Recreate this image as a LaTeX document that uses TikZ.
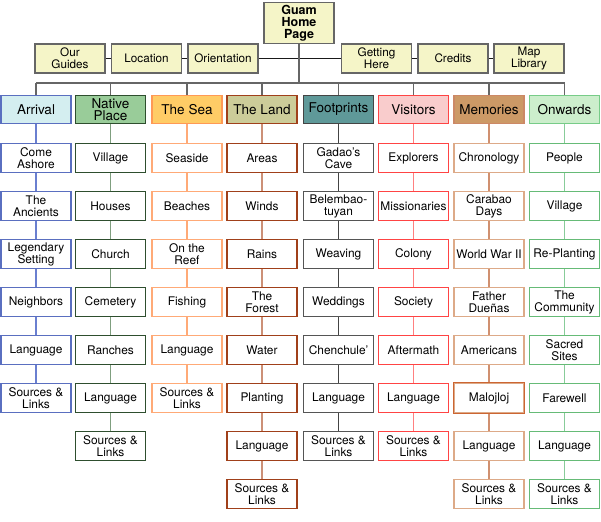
\documentclass[tikz,border=0pt]{standalone}
\usepackage{fontspec}
\setmainfont{TeX Gyre Heros}

\definecolor{pagefill}{HTML}{F5F5C8}
\definecolor{pageline}{HTML}{666666}
\definecolor{arrfill}{HTML}{D4EEF0}
\definecolor{arrline}{HTML}{5A6FC0}
\definecolor{arrlink}{HTML}{6A7FD0}
\definecolor{natfill}{HTML}{99CC99}
\definecolor{natline}{HTML}{2E4E2E}
\definecolor{natlink}{HTML}{7F9F7F}
\definecolor{seafill}{HTML}{FFCC66}
\definecolor{sealine}{HTML}{FF9955}
\definecolor{seasub}{HTML}{FFAA77}
\definecolor{landfill}{HTML}{CCCC99}
\definecolor{landline}{HTML}{A0401A}
\definecolor{landlink}{HTML}{CC9077}
\definecolor{footfill}{HTML}{5F9999}
\definecolor{footline}{HTML}{444444}
\definecolor{footsub}{HTML}{555555}
\definecolor{visfill}{HTML}{F9CCCC}
\definecolor{visline}{HTML}{FF4444}
\definecolor{vislink}{HTML}{FF8080}
\definecolor{memfill}{HTML}{CC9966}
\definecolor{memline}{HTML}{CC8866}
\definecolor{memsub}{HTML}{DDAA88}
\definecolor{memdark}{HTML}{CC6633}
\definecolor{memlink}{HTML}{D09070}
\definecolor{onwfill}{HTML}{CCEECC}
\definecolor{onwline}{HTML}{77CC88}
\definecolor{onwsub}{HTML}{66BB77}
\definecolor{onwlink}{HTML}{88CC99}

% one column of pages under a section head
\newcommand{\pagecolumn}[5]{%
  \foreach \t [count=\k, remember=\k as \j (initially 0)] in {#5} {
    \node[sub, draw=#3] (#1-\k) at (#2, {110+48*\k}) {\t};
    \draw[#4, line width=1.2pt] (#1-\j) -- (#1-\k);
  }}

\begin{document}
\begin{tikzpicture}[x=1pt, y=-1pt, line width=1.2pt,
  page/.style={draw=pageline, fill=pagefill, minimum width=70pt, minimum height=29pt,
    inner sep=1pt, align=center, font=\fontsize{11.7}{12}\selectfont},
  head/.style={minimum width=70pt, minimum height=28pt, inner sep=1pt, align=center,
    font=\fontsize{13.5}{12.5}\selectfont},
  sub/.style={fill=white, minimum width=70pt, minimum height=29.5pt, inner sep=1pt,
    align=center, font=\fontsize{11.9}{12}\selectfont},
  tie/.style={line width=1.1pt, black!90},
  trunk/.style={line width=1.2pt, pageline}]
  \useasboundingbox (0,0) rectangle (601,521);

  % home page and the pages beside it
  \node[page, minimum height=41pt, font=\fontsize{12.5}{12}\selectfont\bfseries] (guam) at (299,23) {Guam\\Home\\Page};
  \node[page] (guides) at (70,58.5) {Our\\Guides};
  \node[page] (location) at (146.5,58.5) {Location};
  \node[page] (orient) at (223,58.5) {Orientation};
  \node[page] (getting) at (376.5,58.5) {Getting\\Here};
  \node[page] (credits) at (453,58.5) {Credits};
  \node[page] (maplib) at (529,58.5) {Map\\Library};
  \draw[tie] (guides) -- (location);
  \draw[tie] (location) -- (orient);
  \draw[tie] (orient) -- (getting);
  \draw[tie] (getting) -- (credits);
  \draw[tie] (credits) -- (maplib);

  % section heads
  \node[head, fill=arrfill, draw=arrline, alias=arrival-0] (arrival) at (36,109.5) {Arrival};
  \node[head, fill=natfill, draw=natline, alias=native-0] (native) at (110.5,109.5) {Native\\Place};
  \node[head, fill=seafill, draw=sealine, alias=sea-0] (sea) at (187,109.5) {The Sea};
  \node[head, fill=landfill, draw=landline, alias=land-0] (land) at (262,109.5) {The Land};
  \node[head, fill=footfill, draw=footline, alias=foot-0] (foot) at (338.5,109.5) {Footprints};
  \node[head, fill=visfill, draw=visline, alias=visitors-0] (visitors) at (413.5,109.5) {Visitors};
  \node[head, fill=memfill, draw=memline, alias=memories-0] (memories) at (489,109.5) {Memories};
  \node[head, fill=onwfill, draw=onwline, alias=onwards-0] (onwards) at (564.5,109.5) {Onwards};

  \coordinate (bus) at (299,83);
  \draw[trunk] (guam) -- (bus);
  \draw[trunk] (arrival |- bus) -- (onwards |- bus);
  \foreach \c in {arrival,native,sea,land,foot,visitors,memories,onwards}
    \draw[trunk] (\c |- bus) -- (\c);

  % pages of each section
  \pagecolumn{arrival}{36}{arrline}{arrlink}{Come\\Ashore, The\\Ancients, Legendary\\Setting,
    Neighbors, Language, Sources \&\\Links}
  \pagecolumn{native}{110.5}{natline}{natlink}{Village, Houses, Church, Cemetery, Ranches,
    Language, Sources \&\\Links}
  \pagecolumn{sea}{187}{seasub}{seasub}{Seaside, Beaches, On the\\Reef, Fishing, Language,
    Sources \&\\Links}
  \pagecolumn{land}{262}{landline}{landlink}{Areas, Winds, Rains, The\\Forest, Water, Planting,
    Language, Sources \&\\Links}
  \pagecolumn{foot}{338.5}{footsub}{footline}{Gadao's\\Cave, Belembao-\\tuyan, Weaving,
    Weddings, Chenchule', Language, Sources \&\\Links}
  \pagecolumn{visitors}{413.5}{visline}{vislink}{Explorers, Missionaries, Colony, Society,
    Aftermath, Language, Sources \&\\Links}
  \pagecolumn{memories}{489}{memsub}{memlink}{Chronology, Carabao\\Days, World War II,
    Father\\Dueñas, Americans, Malojloj, Language, Sources \&\\Links}
  \pagecolumn{onwards}{564.5}{onwsub}{onwlink}{People, Village, Re-Planting, The\\Community,
    Sacred\\Sites, Farewell, Language, Sources \&\\Links}
  \draw[memdark] (memories-6.south west) rectangle (memories-6.north east);
\end{tikzpicture}
\end{document}
